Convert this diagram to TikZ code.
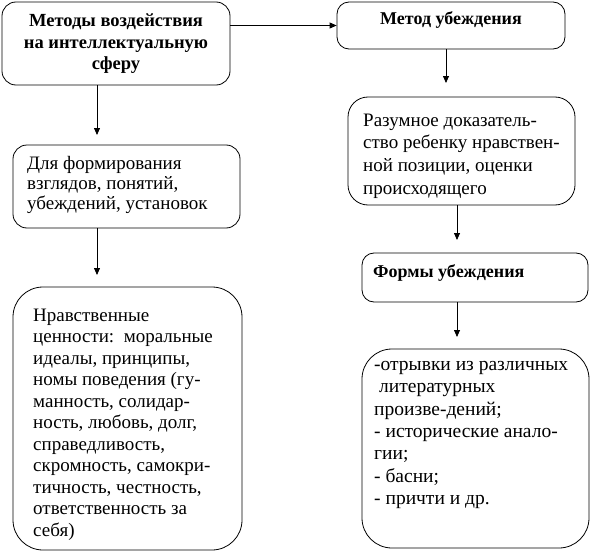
\documentclass[tikz,border=0pt]{standalone}
\usepackage{fontspec}
\setmainfont{Liberation Serif}
\usetikzlibrary{arrows.meta}
\begin{document}
\begin{tikzpicture}[x=1pt,y=-1pt,
  box/.style={draw,line width=0.8pt,inner sep=0pt},
  txt/.style={inner sep=0pt,align=left,anchor=west},
  arr/.style={line width=0.8pt,-{Triangle[length=7pt,width=6pt]}}]
\useasboundingbox (0,0) rectangle (590,554);
% boxes
\node[box,rounded corners=14pt,minimum width=228pt,minimum height=83pt] (b1) at (116,43.5) {};
\node[box,rounded corners=12pt,minimum width=228pt,minimum height=47pt] (b2) at (451,25.5) {};
\node[box,rounded corners=20pt,minimum width=227pt,minimum height=108pt] (b3) at (461.5,151) {};
\node[box,rounded corners=14pt,minimum width=227pt,minimum height=83pt] (b4) at (126.5,186.5) {};
\node[box,rounded corners=30pt,minimum width=229pt,minimum height=263pt] (b5) at (127.5,418.5) {};
\node[box,rounded corners=12pt,minimum width=226pt,minimum height=49pt] (b6) at (475,277.5) {};
\node[box,rounded corners=30pt,minimum width=227pt,minimum height=199pt] (b7) at (475.5,448.5) {};
% texts
\node[inner sep=0pt,align=center,font=\fontsize{18.5}{21.5}\selectfont\bfseries] (t1) at (116,44)
  {Методы воздействия\\на интеллектуальную\\сферу};
\node[inner sep=0pt,font=\fontsize{18}{21.5}\selectfont\bfseries] (t2) at (451,20) {Метод убеждения};
\node[txt,font=\fontsize{19}{22.7}\selectfont] (t3) at (363,156)
  {Разумное доказатель-\\ство ребенку нравствен-\\ной позиции, оценки\\происходящего};
\node[txt,font=\fontsize{19}{20}\selectfont] (t4) at (27,185)
  {Для формирования\\взглядов, понятий,\\убеждений, установок};
\node[txt,font=\fontsize{19}{21.5}\selectfont] (t5) at (33,424.5)
  {Нравственные\\ценности:\ \ моральные\\идеалы, принципы,\\номы поведения (гу-\\манность,\ солидар-\\ность, любовь, долг,\\справедливость,\\скромность, самокри-\\тичность, честность,\\ответственность за\\себя)};
\node[txt,font=\fontsize{18}{21.5}\selectfont\bfseries] (t6) at (373,273) {Формы убеждения};
\node[txt,font=\fontsize{19.5}{22.3}\selectfont] (t7) at (374,435)
  {-отрывки из различных\\\hspace*{5pt}литературных\\произве-дений;\\- исторические анало-\\гии;\\- басни;\\- причти и др.};
% connectors
\coordinate (c1) at (97,135);
\coordinate (c2) at (97,275);
\coordinate (c3) at (446,83);
\coordinate (c4) at (457,240);
\coordinate (c5) at (457,337);
\draw[arr] (b1.east |- b2.west) -- (b2.west);
\draw[arr] (b1.south -| c1) -- (c1);
\draw[arr] (b4.south -| c2) -- (c2);
\draw[arr] (b2.south -| c3) -- (c3);
\draw[arr] (b3.south -| c4) -- (c4);
\draw[arr] (b6.south -| c5) -- (c5);
\end{tikzpicture}
\end{document}
